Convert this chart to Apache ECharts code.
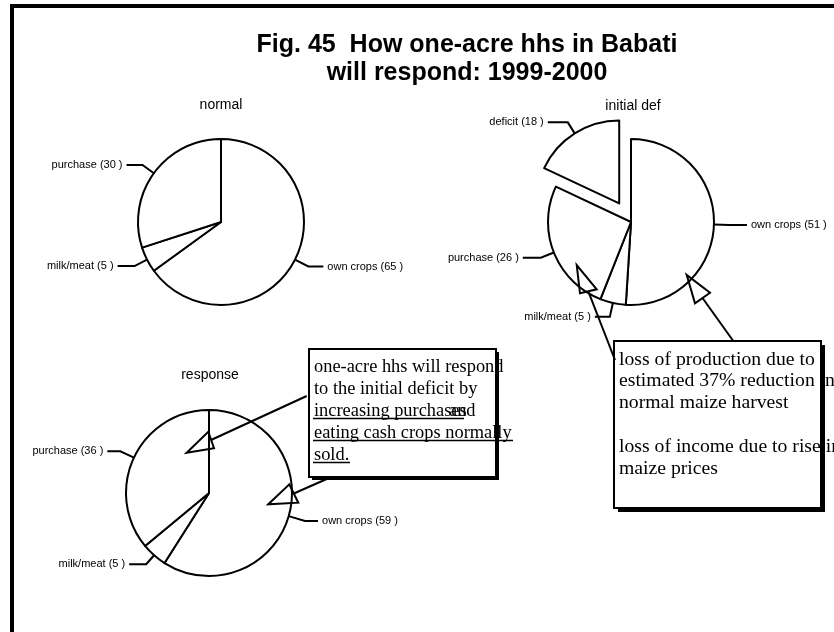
<!DOCTYPE html>
<html>
<head>
<meta charset="utf-8">
<title>Fig. 45</title>
<script src="https://cdn.jsdelivr.net/npm/echarts@6/dist/echarts.min.js"></script>
<style>
  html, body { margin: 0; padding: 0; background: #fff; }
  #main { width: 834px; height: 632px; }
</style>
</head>
<body>
<div id="main"></div>
<script>
// pie data, clockwise from 12 o'clock
const normalNames = ['own crops', 'milk/meat', 'purchase']
const normalValues = [65, 5, 30]
const initialNames = ['own crops', 'milk/meat', 'purchase', 'deficit']
const initialValues = [51, 5, 26, 18]
const responseNames = ['own crops', 'milk/meat', 'purchase']
const responseValues = [59, 5, 36]

// annotation texts
const responseNote = ['one-acre hhs will respond', 'to the initial deficit by', 'increasing purchases', 'eating cash crops normally', 'sold.']
const deficitNote = ['loss of production due to', 'estimated 37% reduction in', 'normal maize harvest', '', 'loss of income due to rise in', 'maize prices']

const SANS = '"Liberation Sans", Arial, sans-serif'
const SERIF = '"Liberation Serif", "Times New Roman", serif'

// label line lengths per slice [length, length2]
const normalLines = [[15, 15], [14, 17], [14, 16]]
const initialLines = [[15, 18], [14, 15], [14, 18], [13, 20]]
const responseLines = [[17, 13], [12, 17], [15, 13]]

function makePie (center, names, values, lines, selectedName) {
  return {
    type: 'pie',
    center: center,
    radius: 83,
    startAngle: 90,
    clockwise: true,
    avoidLabelOverlap: false,
    selectedMode: selectedName ? 'single' : false,
    selectedOffset: 22,
    animation: false,
    emphasis: { disabled: true },
    itemStyle: { color: '#fff', borderColor: '#000', borderWidth: 2 },
    label: {
      show: true,
      position: 'outside',
      formatter: '{b} ({c} )',
      color: '#000',
      fontFamily: SANS,
      fontSize: 11,
      distanceToLabelLine: 4
    },
    labelLine: {
      show: true,
      lineStyle: { color: '#000', width: 2 }
    },
    data: names.map((n, i) => ({
      name: n,
      value: values[i],
      selected: n === selectedName,
      labelLine: { length: lines[i][0], length2: lines[i][1] }
    }))
  }
}

function noteText (t, x, y, size) {
  return {
    type: 'text', z: 12,
    style: {
      text: t, x: x, y: y,
      font: size + 'px ' + SERIF, fill: '#000',
      align: 'left', verticalAlign: 'middle',
      textAlign: 'left', textVerticalAlign: 'middle'
    }
  }
}

function noteBox (x, y, w, h, sh, lines, lineY, lineH, size) {
  const els = [
    { type: 'rect', z: 10, shape: { x: x, y: y, width: w, height: h }, style: { fill: '#fff' } }
  ]
  lines.forEach((t, i) => {
    els.push(noteText(t, x + 5, lineY + i * lineH, size))
  })
  els.push(
    { type: 'rect', z: 13, shape: { x: x, y: y, width: w, height: h }, style: { fill: null, stroke: '#000', lineWidth: 2 } },
    { type: 'rect', z: 13, shape: { x: x + w, y: y + sh, width: sh, height: h }, style: { fill: '#000' } },
    { type: 'rect', z: 13, shape: { x: x + sh, y: y + h, width: w, height: sh }, style: { fill: '#000' } }
  )
  return els
}

function arrow (from, to, head) {
  return [
    { type: 'line', z: 20, shape: { x1: from[0], y1: from[1], x2: to[0], y2: to[1] }, style: { stroke: '#000', lineWidth: 2 } },
    { type: 'polygon', z: 20, shape: { points: head }, style: { fill: null, stroke: '#000', lineWidth: 2 } }
  ]
}

function underline (x1, x2, y) {
  return { type: 'line', z: 12, shape: { x1: x1, y1: y, x2: x2, y2: y }, style: { stroke: '#000', lineWidth: 1.5 } }
}

const chart = echarts.init(document.getElementById('main'), null, { renderer: 'canvas' })

const graphics = [
  // frame
  { type: 'rect', z: 30, shape: { x: 10, y: 4, width: 824, height: 4 }, style: { fill: '#000' } },
  { type: 'rect', z: 30, shape: { x: 10, y: 4, width: 4, height: 628 }, style: { fill: '#000' } }
]
  .concat(noteBox(309, 349, 187, 128, 3, responseNote, 367, 22, 18.4))
  .concat([
    noteText('and', 449, 411, 18.4),
    underline(313, 464, 418.5),
    underline(313, 513, 440.5),
    underline(313, 350, 462.5)
  ])
  .concat(noteBox(614, 341, 207, 167, 4, deficitNote, 359.5, 21.8, 19.7))
  .concat(arrow([306.7, 396], [211, 440], [[186.7, 452.7], [208.3, 431.7], [214, 448.3]]))
  .concat(arrow([326.7, 479], [293.8, 493.5], [[268.3, 504.3], [289.3, 484.3], [298.3, 502.7]]))
  .concat(arrow([615, 360], [588.3, 291.3], [[576.7, 265], [580, 293.3], [596.7, 289.3]]))
  .concat(arrow([733.3, 341], [702.5, 298], [[686.7, 275], [695, 303.3], [710, 292.7]]))

const option = {
  backgroundColor: '#fff',
  animation: false,
  title: [
    {
      text: 'Fig. 45  How one-acre hhs in Babati\nwill respond: 1999-2000',
      left: 467, top: 31, textAlign: 'center', padding: 0,
      textStyle: { fontFamily: SANS, fontWeight: 'bold', fontSize: 25, lineHeight: 28, color: '#000' }
    },
    { text: 'normal', left: 221, top: 98, textAlign: 'center', padding: 0, textStyle: { fontFamily: SANS, fontWeight: 'normal', fontSize: 14, color: '#000' } },
    { text: 'initial def', left: 633, top: 99, textAlign: 'center', padding: 0, textStyle: { fontFamily: SANS, fontWeight: 'normal', fontSize: 14, color: '#000' } },
    { text: 'response', left: 210, top: 368, textAlign: 'center', padding: 0, textStyle: { fontFamily: SANS, fontWeight: 'normal', fontSize: 14, color: '#000' } }
  ],
  series: [
    makePie([221, 222], normalNames, normalValues, normalLines),
    makePie([631, 222], initialNames, initialValues, initialLines, 'deficit'),
    makePie([209, 493], responseNames, responseValues, responseLines)
  ],
  graphic: { elements: graphics }
}

chart.setOption(option)
</script>
</body>
</html>
